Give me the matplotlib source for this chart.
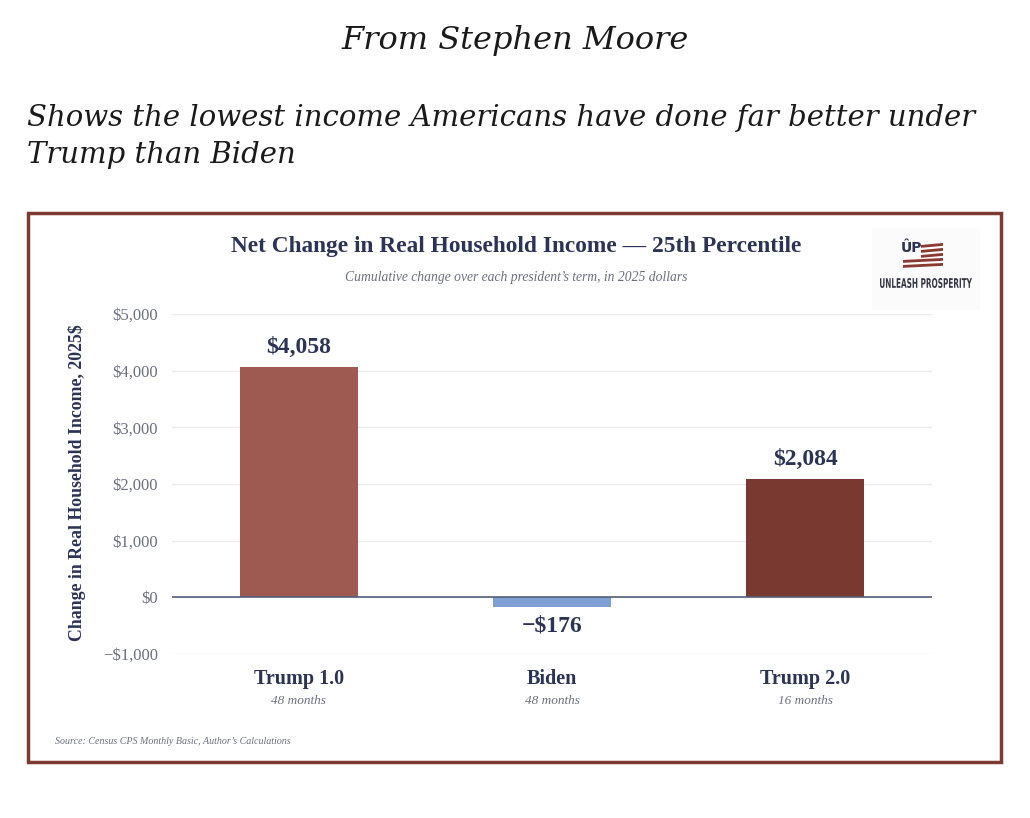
import matplotlib
matplotlib.use("Agg")
import matplotlib.pyplot as plt
from matplotlib.patches import Rectangle, Polygon, PathPatch
from matplotlib.textpath import TextPath
from matplotlib.font_manager import FontProperties
from matplotlib.transforms import Affine2D

categories = ["Trump 1.0", "Biden", "Trump 2.0"]
durations = ["48 months", "48 months", "16 months"]
values = [4058, -176, 2084]
value_labels = ["$4,058", "\u2212$176", "$2,084"]
bar_colors = ["#9e5a51", "#7f9fd5", "#7a3930"]
yticks = [-1000, 0, 1000, 2000, 3000, 4000, 5000]
ytick_labels = ["\u2212$1,000", "$0", "$1,000", "$2,000", "$3,000", "$4,000", "$5,000"]

SERIF = "Liberation Serif"
HEAD = "DejaVu Serif"
NAVY = "#2b3457"
GREY = "#6b6f80"

fig = plt.figure(figsize=(10.30, 8.18), dpi=100)
fig.patch.set_facecolor("white")

W, H = 1030, 818
def fx(x): return x / W
def fy(y): return 1 - y / H

# Header
fig.text(fx(515), fy(40), "From Stephen Moore", ha="center", va="center",
         family=HEAD, style="italic", fontsize=23, color="#1a1a1a")
fig.text(fx(27), fy(118), "Shows the lowest income Americans have done far better under",
         ha="left", va="center", family=HEAD, style="italic", fontsize=21, color="#1a1a1a")
fig.text(fx(27), fy(155), "Trump than Biden",
         ha="left", va="center", family=HEAD, style="italic", fontsize=21, color="#1a1a1a")

# Frame
fig.patches.append(Rectangle((fx(28), fy(762)), fx(1001) - fx(28), fy(213) - fy(762),
                             transform=fig.transFigure, fill=False,
                             edgecolor="#7c3b31", linewidth=2.5))

# Chart title
fig.text(fx(516), fy(247), "Net Change in Real Household Income \u2014 25th Percentile",
         ha="center", va="center", family=SERIF, weight="bold", fontsize=16.8, color=NAVY)
fig.text(fx(516), fy(277), "Cumulative change over each president\u2019s term, in 2025 dollars",
         ha="center", va="center", family=SERIF, style="italic", fontsize=9.8, color=GREY)

# Logo
fig.patches.append(Rectangle((fx(872), fy(310)), fx(108), 82 / H, transform=fig.transFigure,
                             color="#fcfbfb", lw=0, zorder=0))
fig.text(fx(911), fy(248), "\u00dbP", ha="center", va="center", family="DejaVu Sans",
         weight="bold", fontsize=10, color=NAVY)
stripe_red = "#8a3a30"
for i in range(5):
    y0 = 243 + i * 5
    x0 = 921 if i < 3 else 903
    x1 = 943
    pts = [(fx(x0), fy(y0 + 2.0)), (fx(x1), fy(y0)), (fx(x1), fy(y0 + 2.8)),
           (fx(x0), fy(y0 + 4.8))]
    fig.patches.append(Polygon(pts, closed=True, transform=fig.transFigure,
                               color=stripe_red, lw=0))
tp = TextPath((0, 0), "UNLEASH PROSPERITY", size=1,
              prop=FontProperties(family="DejaVu Sans", weight="bold"))
bb = tp.get_extents()
sx = 92 / bb.width
sy = 10 / bb.height
trans = (Affine2D().translate(-bb.x0, -bb.y0).scale(sx, sy).translate(880, H - 288)
         + fig.dpi_scale_trans.frozen().inverted().frozen() + Affine2D().scale(1.0)
         ) if False else None
tpath = tp.transformed(Affine2D().translate(-bb.x0, -bb.y0).scale(sx / W, sy / H)
                       .translate(fx(880), fy(288)))
fig.patches.append(PathPatch(tpath, transform=fig.transFigure, color="#333844", lw=0))

# Axes
ax = fig.add_axes([fx(172), fy(654), fx(932) - fx(172), fy(314) - fy(654)])
x = list(range(len(categories)))
ax.bar(x, values, width=0.465, color=bar_colors, zorder=3)
ax.set_xlim(-0.5, 2.5)
ax.set_ylim(-1000, 5000)
ax.set_yticks(yticks)
ax.set_yticklabels(ytick_labels, family=SERIF, fontsize=12, color=GREY)
ax.tick_params(axis="y", length=0, pad=10)
ax.tick_params(axis="x", length=0)
ax.set_xticks([])
ax.grid(axis="y", color="#ebebeb", linewidth=1, zorder=0)
for s in ax.spines.values():
    s.set_visible(False)
ax.axhline(0, color="#56607a", linewidth=1.2, zorder=4)

for xi, v, lab in zip(x, values, value_labels):
    if v >= 0:
        ax.annotate(lab, (xi, v), xytext=(0, 7), textcoords="offset points",
                    ha="center", va="bottom", family=SERIF, weight="bold",
                    fontsize=17, color=NAVY)
    else:
        ax.annotate(lab, (xi, v), xytext=(0, -6), textcoords="offset points",
                    ha="center", va="top", family=SERIF, weight="bold",
                    fontsize=17, color=NAVY)

for xi, c, d in zip(x, categories, durations):
    ax.annotate(c, (xi, 0), xycoords=("data", "axes fraction"), xytext=(0, -18),
                textcoords="offset points", ha="center", va="center",
                family=SERIF, weight="bold", fontsize=14.5, color=NAVY)
    ax.annotate(d, (xi, 0), xycoords=("data", "axes fraction"), xytext=(0, -34),
                textcoords="offset points", ha="center", va="center",
                family=SERIF, style="italic", fontsize=9.5, color=GREY)

fig.text(fx(77), fy(483), "Change in Real Household Income, 2025$", rotation=90,
         ha="center", va="center", family=SERIF, weight="bold", fontsize=12.8, color=NAVY)

fig.text(fx(55), fy(742), "Source: Census CPS Monthly Basic, Author\u2019s Calculations",
         ha="left", va="center", family=SERIF, style="italic", fontsize=7.2, color=GREY)

fig.savefig("out.png", dpi=100, facecolor="white")
